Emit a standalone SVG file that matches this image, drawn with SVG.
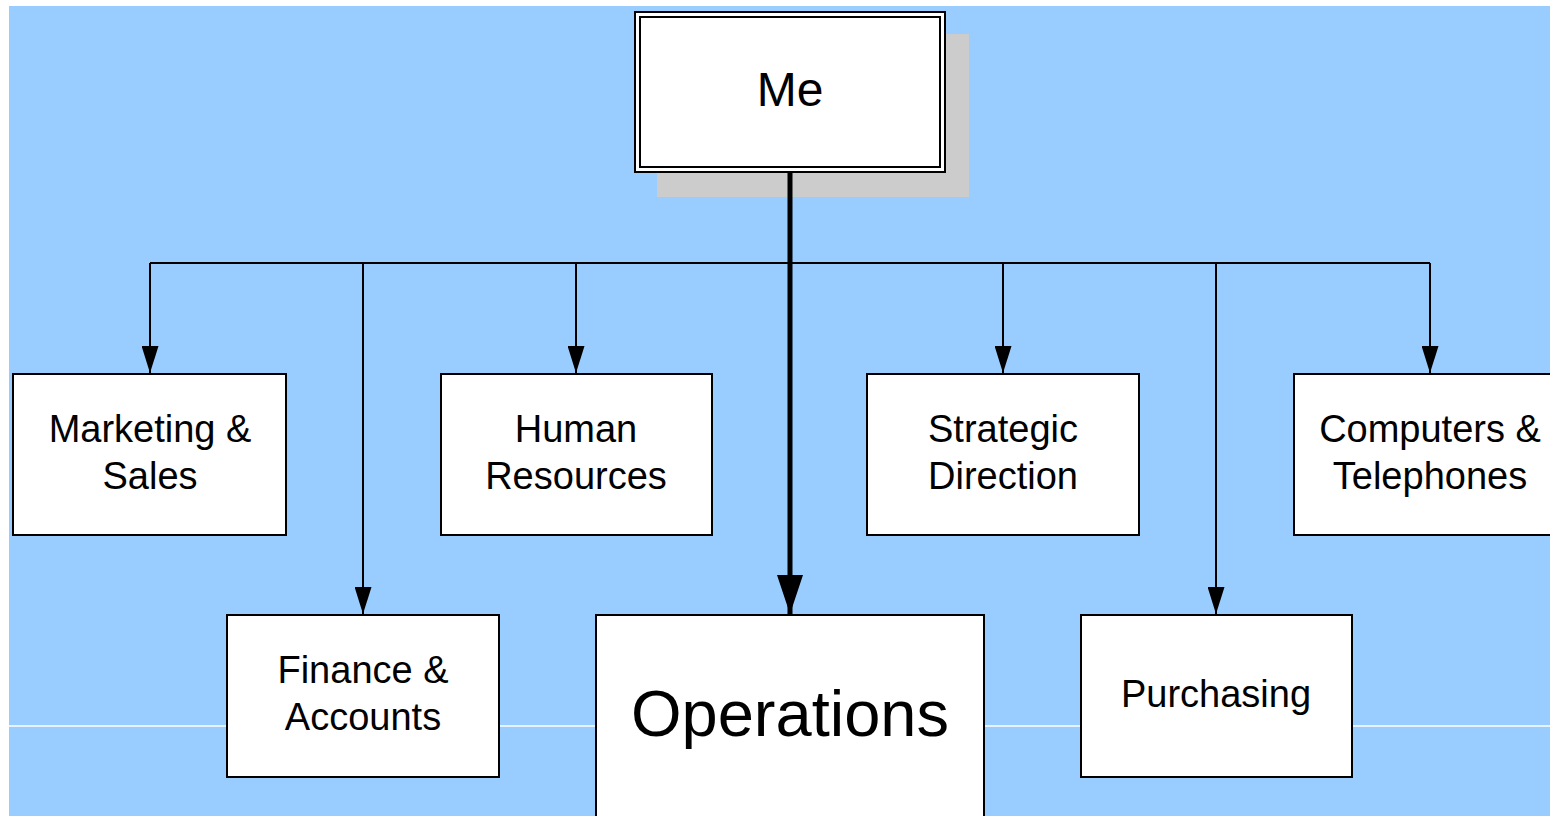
<svg xmlns="http://www.w3.org/2000/svg" width="1550" height="816" viewBox="0 0 1550 816">
<defs>
<style>
.box{fill:#fff;stroke:#000;stroke-width:2}
.t{font-family:"Liberation Sans",Arial,sans-serif;font-size:38px;text-anchor:middle;fill:#000}
.ln{fill:none;stroke:#000;stroke-width:2}
</style>
<marker id="ah" markerWidth="27" markerHeight="17" refX="27" refY="8.5" orient="auto" markerUnits="userSpaceOnUse" viewBox="0 0 27 17">
<path d="M0,0 L27,8.5 L0,17 Z" fill="#000"/>
</marker>
<marker id="ahb" markerWidth="39" markerHeight="26" refX="39" refY="13" orient="auto" markerUnits="userSpaceOnUse" viewBox="0 0 39 26">
<path d="M0,0 L39,13 L0,26 Z" fill="#000"/>
</marker>
</defs>
<rect x="0" y="0" width="1550" height="816" fill="#fff"/>
<rect x="9" y="6" width="1541" height="810" fill="#99CCFF"/>
<line x1="9" y1="726" x2="1550" y2="726" stroke="#fff" stroke-width="1.5"/>

<g id="me">
<rect x="657" y="34" width="312" height="163" fill="#ccc"/>
<rect x="635" y="12" width="310" height="160" fill="#fff" stroke="#000" stroke-width="2"/>
<rect x="640" y="17" width="300" height="150" fill="none" stroke="#000" stroke-width="2"/>
<text class="t" x="790" y="106" style="font-size:48px">Me</text>
</g>

<g id="connectors">
<path class="ln" d="M150,263 H1430"/>
<path class="ln" d="M150,263 V373" marker-end="url(#ah)"/>
<path class="ln" d="M363,263 V614" marker-end="url(#ah)"/>
<path class="ln" d="M576,263 V373" marker-end="url(#ah)"/>
<path class="ln" d="M1003,263 V373" marker-end="url(#ah)"/>
<path class="ln" d="M1216,263 V614" marker-end="url(#ah)"/>
<path class="ln" d="M1430,263 V373" marker-end="url(#ah)"/>
<path d="M790,172 V614" stroke="#000" stroke-width="5" fill="none" marker-end="url(#ahb)"/>
</g>

<g id="marketing">
<rect class="box" x="13" y="374" width="273" height="161"/>
<text class="t" x="150" y="442">Marketing &amp;</text>
<text class="t" x="150" y="489">Sales</text>
</g>
<g id="hr">
<rect class="box" x="441" y="374" width="271" height="161"/>
<text class="t" x="576" y="442">Human</text>
<text class="t" x="576" y="489">Resources</text>
</g>
<g id="strategic">
<rect class="box" x="867" y="374" width="272" height="161"/>
<text class="t" x="1003" y="442">Strategic</text>
<text class="t" x="1003" y="489">Direction</text>
</g>
<g id="computers">
<rect class="box" x="1294" y="374" width="272" height="161"/>
<text class="t" x="1430" y="442">Computers &amp;</text>
<text class="t" x="1430" y="489">Telephones</text>
</g>
<g id="finance">
<rect class="box" x="227" y="615" width="272" height="162"/>
<text class="t" x="363" y="683">Finance &amp;</text>
<text class="t" x="363" y="730">Accounts</text>
</g>
<g id="operations">
<rect class="box" x="596" y="615" width="388" height="220"/>
<text class="t" x="790" y="736" style="font-size:65px">Operations</text>
</g>
<g id="purchasing">
<rect class="box" x="1081" y="615" width="271" height="162"/>
<text class="t" x="1216" y="707">Purchasing</text>
</g>
</svg>
